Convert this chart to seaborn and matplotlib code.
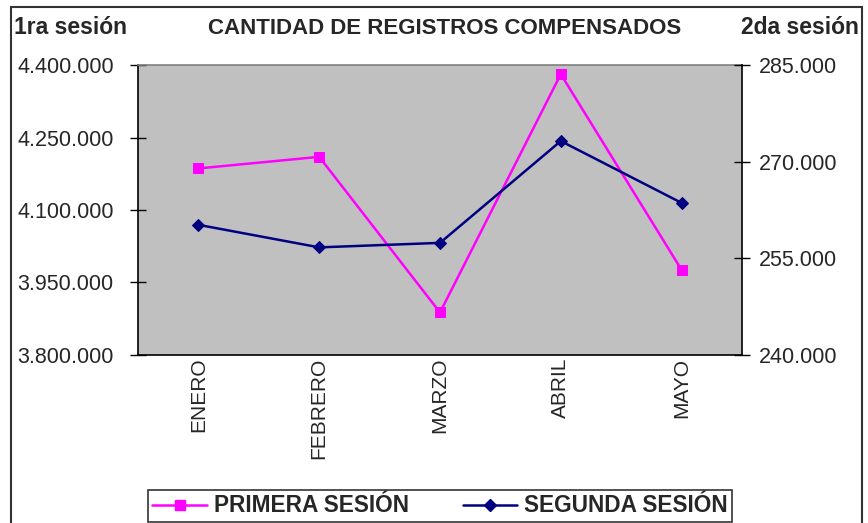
import matplotlib
matplotlib.use("Agg")
import matplotlib.pyplot as plt
import seaborn as sns
import pandas as pd
from matplotlib.patches import Rectangle
from matplotlib.lines import Line2D
from matplotlib.ticker import FuncFormatter, FixedLocator

meses = ["ENERO", "FEBRERO", "MARZO", "ABRIL", "MAYO"]
primera = [4186000, 4210000, 3888000, 4381000, 3976000]
segunda = [260200, 256700, 257400, 273200, 263600]

left_ticks = [3800000, 3950000, 4100000, 4250000, 4400000]
right_ticks = [240000, 255000, 270000, 285000]

title = "CANTIDAD DE REGISTROS COMPENSADOS"
left_label = "1ra sesión"
right_label = "2da sesión"
serie1 = "PRIMERA SESIÓN"
serie2 = "SEGUNDA SESIÓN"

PINK = "#FF00FF"
NAVY = "#000080"

sns.set_theme(style="white")
plt.rcParams["font.family"] = ["Liberation Sans", "DejaVu Sans"]

df = pd.DataFrame({"mes": meses, "primera": primera, "segunda": segunda})

fig = plt.figure(figsize=(8.68, 5.23), dpi=100)
W, H = 868, 523
ax = fig.add_axes([138 / W, 1 - 355 / H, (742 - 138) / W, (355 - 65) / H])
ax.set_facecolor("#C0C0C0")
ax2 = ax.twinx()

sns.lineplot(data=df, x="mes", y="primera", ax=ax, color=PINK, marker="s",
             markersize=7, markeredgecolor=PINK, linewidth=1.8, sort=False)
sns.lineplot(data=df, x="mes", y="segunda", ax=ax2, color=NAVY, marker="D",
             markersize=6.5, markeredgecolor=NAVY, linewidth=1.8, sort=False)

ax.set_xlim(-0.5, len(meses) - 0.5)
ax.set_ylim(left_ticks[0], left_ticks[-1])
ax2.set_ylim(right_ticks[0], right_ticks[-1])

fmt = FuncFormatter(lambda v, p: f"{int(round(v)):,}".replace(",", "."))
ax.yaxis.set_major_locator(FixedLocator(left_ticks))
ax.yaxis.set_major_formatter(fmt)
ax2.yaxis.set_major_locator(FixedLocator(right_ticks))
ax2.yaxis.set_major_formatter(fmt)

# category boundaries as major ticks, labels at centers as minor ticks
ax.set_xticks([i - 0.5 for i in range(len(meses) + 1)])
ax.set_xticklabels([""] * (len(meses) + 1))
ax.set_xticks(list(range(len(meses))), minor=True)
ax.set_xticklabels(meses, minor=True, rotation=90, fontsize=15)
ax.tick_params(axis="x", which="minor", length=0, pad=2)
ax.tick_params(axis="x", which="major", direction="inout", length=11, width=1, color="black")

ax.tick_params(axis="y", direction="inout", length=11, width=1, color="black",
               labelsize=15.5, pad=12, left=True)
ax2.tick_params(axis="y", direction="inout", length=11, width=1, color="black",
                labelsize=15.5, pad=7, right=True)

for a in (ax, ax2):
    a.set_xlabel("")
    a.set_ylabel("")
    for s in a.spines.values():
        s.set_visible(False)
ax.spines["left"].set_visible(True)
ax.spines["bottom"].set_visible(True)
ax2.spines["right"].set_visible(True)
for s in (ax.spines["left"], ax.spines["bottom"], ax2.spines["right"]):
    s.set_color("black")
    s.set_linewidth(1.2)
ax.spines["top"].set_visible(True)
ax.spines["top"].set_color("#808080")
ax.spines["top"].set_linewidth(1.2)

fig.text(445 / W, 1 - 29 / H, title, ha="center", va="center",
         fontsize=16, fontweight="bold")
fig.text(14 / W, 1 - 28 / H, left_label, ha="left", va="center",
         fontsize=16.5, fontweight="bold")
fig.text(859 / W, 1 - 28 / H, right_label, ha="right", va="center",
         fontsize=16.5, fontweight="bold")

# outer chart frame
fig.patches.append(Rectangle((11 / W, -0.05), (862 - 11) / W, 1.05 - 7 / H,
                             transform=fig.transFigure, fill=False,
                             edgecolor="#333333", linewidth=1.5))

handles = [Line2D([], [], color=PINK, marker="s", markersize=7, linewidth=1.8),
           Line2D([], [], color=NAVY, marker="D", markersize=6, linewidth=1.8)]
leg = fig.legend(handles, [serie1, serie2], loc="center",
                 bbox_to_anchor=(440 / W, 1 - 506 / H), ncol=2,
                 frameon=True, fancybox=False, shadow=False,
                 edgecolor="#333333", framealpha=1,
                 prop={"size": 16.3, "weight": "bold"},
                 handlelength=2.4, handletextpad=0.3, columnspacing=2.4,
                 borderpad=0.2, borderaxespad=0)
leg.get_frame().set_linewidth(1.2)

fig.savefig("out.png", dpi=100)
